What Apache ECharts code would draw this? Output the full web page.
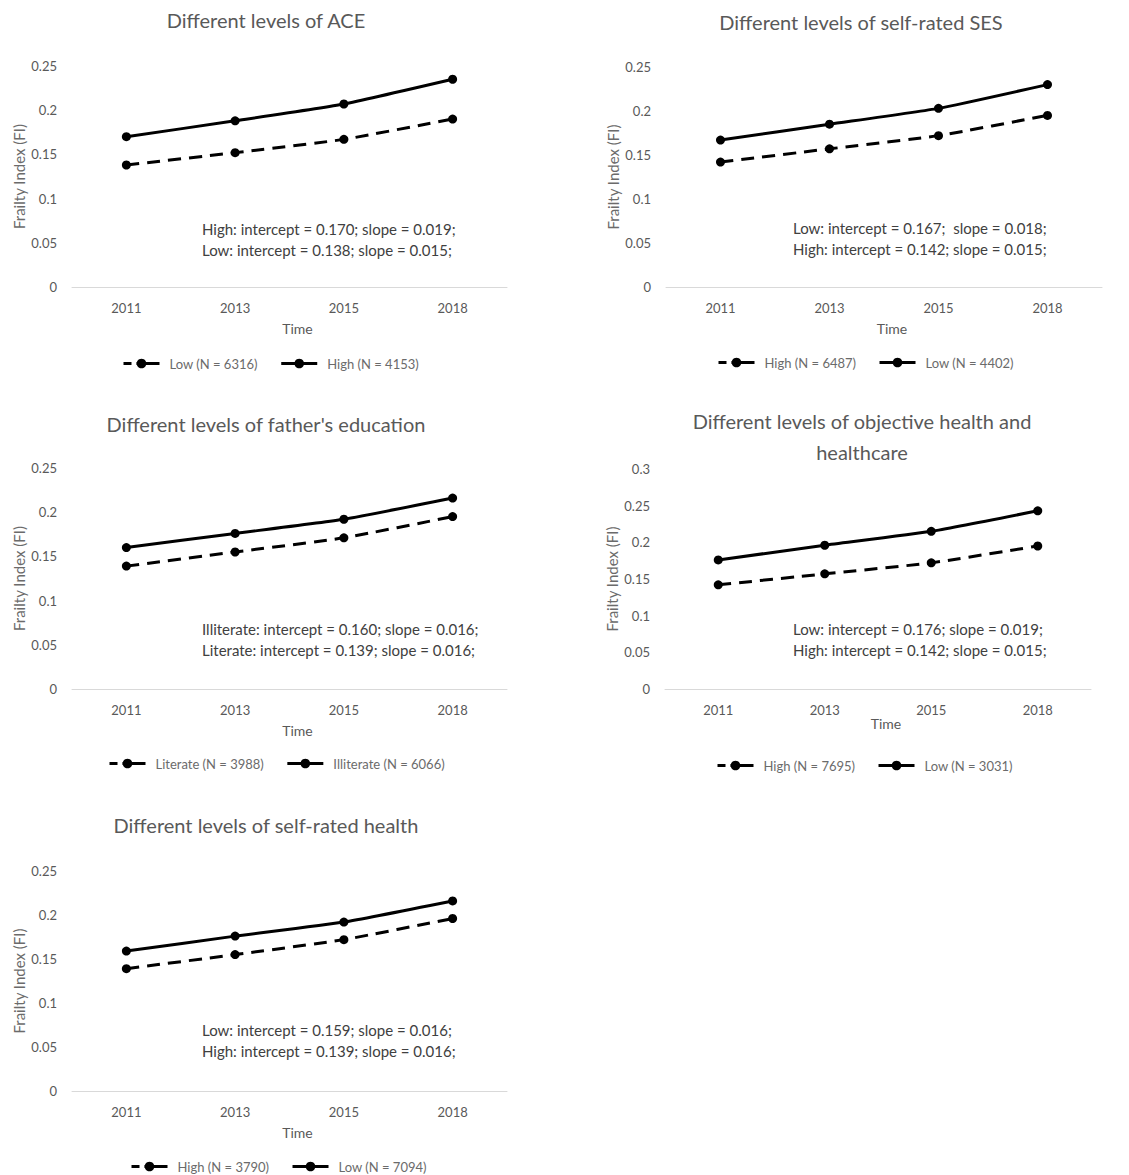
<!DOCTYPE html>
<html><head><meta charset="utf-8">
<script src="https://cdn.jsdelivr.net/npm/echarts@6/dist/echarts.min.js"></script>
<style>html,body{margin:0;padding:0;background:#fff}#c{width:1129px;height:1175px}</style>
</head><body><div id="c"></div>
<script>
// ---- data ----
const years = ['2011', '2013', '2015', '2018'];

const aceHigh = [0.170, 0.188, 0.207, 0.235];
const aceLow = [0.138, 0.152, 0.167, 0.190];

const sesLow = [0.167, 0.185, 0.203, 0.230];
const sesHigh = [0.142, 0.157, 0.172, 0.195];

const eduIlliterate = [0.160, 0.176, 0.192, 0.216];
const eduLiterate = [0.139, 0.155, 0.171, 0.195];

const ohLow = [0.176, 0.196, 0.215, 0.243];
const ohHigh = [0.142, 0.157, 0.172, 0.195];

const srhLow = [0.159, 0.176, 0.192, 0.216];
const srhHigh = [0.139, 0.155, 0.172, 0.196];

const panelTitles = [
  'Different levels of ACE',
  'Different levels of self-rated SES',
  "Different levels of father's education",
  'Different levels of objective health and\nhealthcare',
  'Different levels of self-rated health'
];
const dashedNames = ['Low (N = 6316)', 'High (N = 6487)', 'Literate (N = 3988)', 'High (N = 7695)', 'High (N = 3790)'];
const solidNames = ['High (N = 4153)', 'Low (N = 4402)', 'Illiterate (N = 6066)', 'Low (N = 3031)', 'Low (N = 7094)'];
const dashedData = [aceLow, sesHigh, eduLiterate, ohHigh, srhHigh];
const solidData = [aceHigh, sesLow, eduIlliterate, ohLow, srhLow];
const annotations = [
  'High: intercept = 0.170; slope = 0.019;\nLow: intercept = 0.138; slope = 0.015;',
  'Low: intercept = 0.167;  slope = 0.018;\nHigh: intercept = 0.142; slope = 0.015;',
  'Illiterate: intercept = 0.160; slope = 0.016;\nLiterate: intercept = 0.139; slope = 0.016;',
  'Low: intercept = 0.176; slope = 0.019;\nHigh: intercept = 0.142; slope = 0.015;',
  'Low: intercept = 0.159; slope = 0.016;\nHigh: intercept = 0.139; slope = 0.016;'
];
const yMaxes = [0.25, 0.25, 0.25, 0.3, 0.25];
const xAxisName = 'Time';
const yAxisName = 'Frailty Index (FI)';

// ---- layout ----
const FONT = 'Lato, "Open Sans", sans-serif';
const grids = [
  {left: 72, top: 66, width: 435, height: 221},
  {left: 666, top: 67, width: 436, height: 220},
  {left: 72, top: 468, width: 435, height: 221},
  {left: 665, top: 469, width: 426, height: 220},
  {left: 72, top: 871, width: 435, height: 220}
];
const titlePos = [[266, 20], [861, 22], [266, 424], [862, 436], [266, 825]];
const annPos = [[202, 218], [793, 217], [202, 618], [793, 618], [202, 1019]];
const legendPos = [[122, 365], [717, 364], [108, 765], [716, 767], [130, 1168]];
const timeGap = [34, 34, 34, 26, 34];
const DASH = [13, 8];

const option = {
  animation: false,
  backgroundColor: '#fff',
  textStyle: {fontFamily: FONT},
  grid: grids.map(g => Object.assign({containLabel: false}, g)),
  xAxis: grids.map((g, i) => ({
    type: 'category', gridIndex: i, data: years, boundaryGap: true,
    axisLine: {lineStyle: {color: '#d9d9d9', width: 1}},
    axisTick: {show: false},
    axisLabel: {color: '#595959', fontSize: 13, margin: 14, fontFamily: FONT},
    name: xAxisName, nameLocation: 'middle', nameGap: timeGap[i],
    nameTextStyle: {color: '#595959', fontSize: 14, fontFamily: FONT, padding: [0, 0, 0, 16]}
  })),
  yAxis: grids.map((g, i) => ({
    type: 'value', gridIndex: i, min: 0, max: yMaxes[i], interval: 0.05,
    axisLine: {show: false}, axisTick: {show: false}, splitLine: {show: false},
    axisLabel: {color: '#595959', fontSize: 13, margin: 15, fontFamily: FONT},
    name: yAxisName, nameLocation: 'middle', nameGap: 46,
    nameTextStyle: {color: '#6b6b6b', fontSize: 15, fontFamily: FONT}
  })),
  legend: grids.map((g, i) => ({
    left: legendPos[i][0], top: legendPos[i][1] - 8, padding: 0,
    orient: 'horizontal', selectedMode: false,
    itemWidth: 36, itemHeight: 12, itemGap: 22,
    textStyle: {color: '#6b6b6b', fontSize: 13, fontFamily: FONT, padding: [0, 0, 0, 5]},
    data: [
      {name: dashedNames[i], lineStyle: {type: [8, 5, 23, 0], width: 3, color: '#000'}},
      {name: solidNames[i], lineStyle: {type: 'solid', width: 3, color: '#000'}}
    ]
  })),
  series: [],
  graphic: []
};

for (let i = 0; i < 5; i++) {
  option.series.push({
    type: 'line', name: dashedNames[i], xAxisIndex: i, yAxisIndex: i,
    data: dashedData[i], smooth: 0.15,
    symbol: 'circle', symbolSize: 9,
    lineStyle: {color: '#000', width: 3, type: DASH},
    itemStyle: {color: '#000'}
  });
  option.series.push({
    type: 'line', name: solidNames[i], xAxisIndex: i, yAxisIndex: i,
    data: solidData[i], smooth: 0.15,
    symbol: 'circle', symbolSize: 9,
    lineStyle: {color: '#000', width: 3, type: 'solid'},
    itemStyle: {color: '#000'}
  });
  option.graphic.push({
    type: 'text', x: titlePos[i][0], y: titlePos[i][1],
    style: {text: panelTitles[i], fill: '#595959', fontSize: 20, fontFamily: FONT,
      align: 'center', verticalAlign: 'middle', lineHeight: 31}
  });
  option.graphic.push({
    type: 'text', x: annPos[i][0], y: annPos[i][1],
    style: {text: annotations[i], fill: '#404040', fontSize: 15, fontFamily: FONT,
      align: 'left', verticalAlign: 'top', lineHeight: 21}
  });
}

const chart = echarts.init(document.getElementById('c'), null, {renderer: 'svg', width: 1129, height: 1175});
chart.setOption(option);
</script>
</body></html>
